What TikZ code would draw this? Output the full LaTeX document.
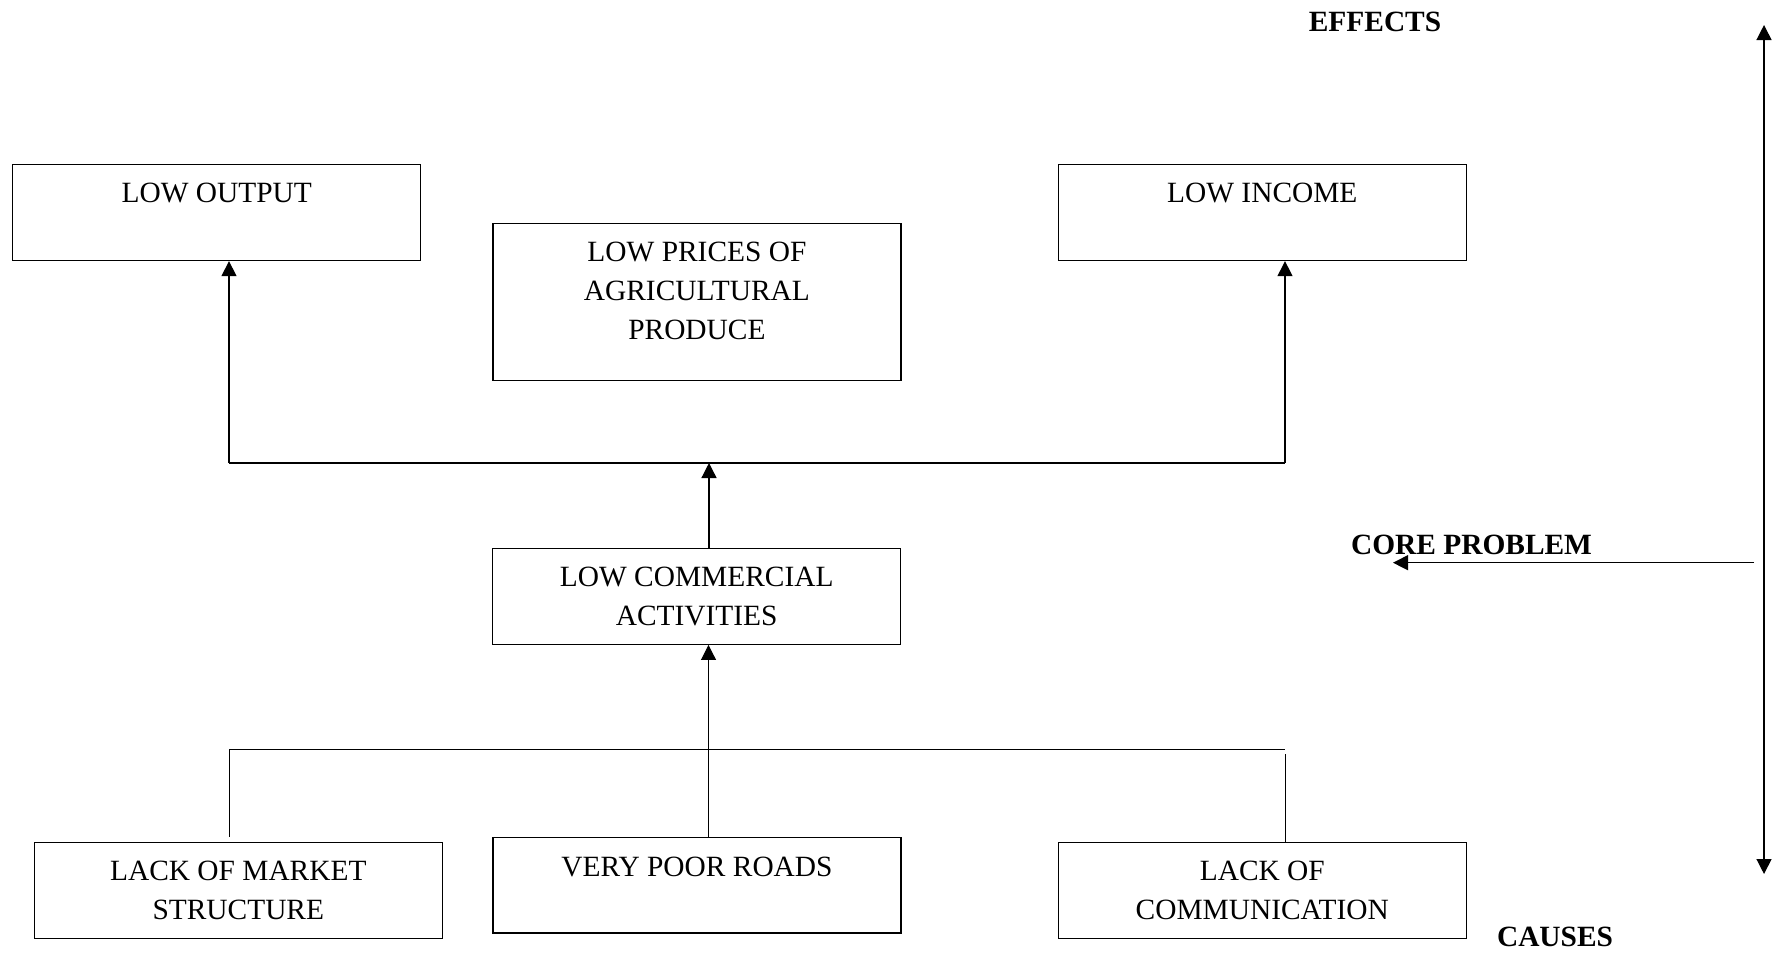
\documentclass[tikz,border=0pt]{standalone}
\usepackage{fontspec}
\setmainfont{Liberation Serif}
\usetikzlibrary{arrows.meta}

\tikzset{
  box/.style={draw, line width=0.65pt, minimum width=204pt, minimum height=48pt, inner sep=0pt},
  lbl/.style={anchor=north, align=center, inner sep=0pt, yshift=-9.5pt, font=\fontsize{14.7}{19.3}\selectfont},
  heading/.style={inner sep=0pt, font=\fontsize{14.7}{19.3}\selectfont\bfseries},
  link/.style={line width=0.65pt},
  tree/.style={line width=0.5pt},
  tip/.style={-{Triangle[length=7.5pt,width=7.5pt]}}
}

\begin{document}
\begin{tikzpicture}[x=0.5pt,y=0.5pt,yscale=-1,xscale=1]
    \useasboundingbox (0,0) rectangle (1780,953);

    %Shape: Rectangle [effects]
    \node [box, label={[lbl]north:LOW OUTPUT}] (out) at (216.8,212.5) {};
    \node [box, minimum height=78.3pt, label={[lbl]north:LOW PRICES OF\\AGRICULTURAL\\PRODUCE}] (price) at (696.9,302) {};
    \node [box, label={[lbl]north:LOW INCOME}] (inc) at (1262.3,212.5) {};

    %Shape: Rectangle [core]
    \node [box, label={[lbl]north:LOW COMMERCIAL\\ACTIVITIES}] (comm) at (696.7,596.3) {};

    %Shape: Rectangle [causes]
    \node [box, label={[lbl]north:LACK OF MARKET\\STRUCTURE}] (mkt) at (238.3,890.5) {};
    \node [box, minimum height=47.6pt, label={[lbl]north:VERY POOR ROADS}] (road) at (697,885.4) {};
    \node [box, label={[lbl]north:LACK OF\\COMMUNICATION}] (talk) at (1262.3,890.5) {};

    % Text Node
    \node [heading] (eff) at (1375,21.7) {EFFECTS};
    \node [heading] (core) at (1471.5,545) {CORE PROBLEM};
    \node [heading] (cau) at (1555,936.7) {CAUSES};

    %Straight Lines [upper tree]
    \coordinate (up) at (709,463);
    \coordinate (upl) at (229,463);
    \coordinate (upr) at (1285,463);
    \draw [link, tip] (comm.north -| up) -- (up);
    \draw [link] (upl) -- (upr);
    \draw [link, tip] (upl) -- (upl |- out.south);
    \draw [link, tip] (upr) -- (upr |- inc.south);

    %Straight Lines [lower tree]
    \coordinate (lowl) at (229,749);
    \coordinate (lowr) at (1285,749);
    \coordinate (lowrr) at (1285,754);
    \draw [tree] (lowl) -- (lowr);
    \draw [tree] (lowl) -- (lowl |- road.north);
    \draw [tree] (lowrr) -- (lowrr |- talk.north);
    \draw [tree, tip] (road.north -| 708.5,0) -- (comm.south -| 708.5,0);

    %Straight Lines [side axis]
    \coordinate (top) at (1764,25);
    \coordinate (bot) at (1764,874);
    \coordinate (mid) at (1754,562.7);
    \coordinate (pt) at (1393,562.7);
    \draw [link, {Triangle[length=7.5pt,width=7.5pt]}-{Triangle[length=7.5pt,width=7.5pt]}] (top) -- (bot);
    \draw [link, tip] (mid) -- (pt);

\end{tikzpicture}
\end{document}
